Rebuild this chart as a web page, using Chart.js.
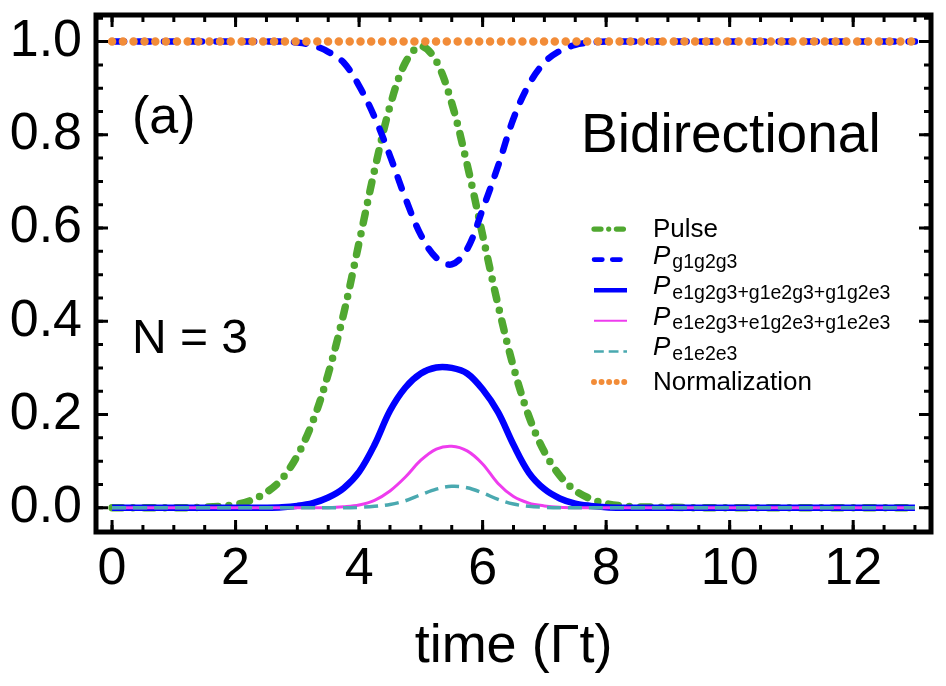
<!DOCTYPE html>
<html lang="en">
<head>
    <meta charset="UTF-8">
    <title>Bidirectional, N = 3</title>
    <script src="https://cdn.jsdelivr.net/npm/chart.js"></script>
    <style>
        html, body { margin: 0; padding: 0; background: #fff; }
        #wrap { width: 946px; height: 686px; }
    </style>
</head>
<body>
<div id="wrap"><canvas id="popChart" width="946" height="686"></canvas></div>
<script>
    // time axis (Gamma t) and the populations
    const time = [0, 0.5, 1, 1.5, 2, 2.25, 2.5, 2.75, 3, 3.25, 3.5, 3.75, 4, 4.25, 4.5, 4.75,
                  5, 5.25, 5.5, 5.75, 6, 6.25, 6.5, 6.75, 7, 7.25, 7.5, 7.75, 8, 8.25, 8.5,
                  9, 9.5, 10, 11, 12, 13];
    const pulse = [0, 0, 0, 0.001, 0.007, 0.016, 0.033, 0.062, 0.112, 0.185, 0.287, 0.416, 0.569, 0.724, 0.861, 0.955,
                   0.99, 0.958, 0.868, 0.736, 0.585, 0.435, 0.302, 0.196, 0.120, 0.069, 0.037, 0.019, 0.009, 0.004, 0.002,
                   0.001, 0, 0, 0, 0, 0];
    const pG = [1, 1, 1, 1, 1, 1, 1, 1, 0.998, 0.992, 0.978, 0.955, 0.905, 0.838, 0.755, 0.664,
                0.585, 0.536, 0.522, 0.555, 0.640, 0.733, 0.835, 0.908, 0.955, 0.980, 0.993, 0.998, 1, 1, 1,
                1, 1, 1, 1, 1, 1];
    const pOne = [0, 0, 0, 0, 0, 0, 0, 0.001, 0.004, 0.010, 0.022, 0.042, 0.077, 0.135, 0.208, 0.258,
                  0.288, 0.301, 0.300, 0.288, 0.254, 0.205, 0.135, 0.075, 0.040, 0.020, 0.009, 0.004, 0.001, 0, 0,
                  0, 0, 0, 0, 0, 0];
    const pTwo = [0, 0, 0, 0, 0, 0, 0, 0, 0, 0, 0, 0.002, 0.006, 0.016, 0.036, 0.066,
                  0.102, 0.126, 0.132, 0.122, 0.094, 0.052, 0.024, 0.010, 0.004, 0.001, 0, 0, 0, 0, 0,
                  0, 0, 0, 0, 0, 0];
    const pThree = [0, 0, 0, 0, 0, 0, 0, 0, 0, 0, 0, 0, 0.001, 0.003, 0.007, 0.015,
                    0.028, 0.040, 0.046, 0.043, 0.032, 0.018, 0.008, 0.003, 0.001, 0, 0, 0, 0, 0, 0,
                    0, 0, 0, 0, 0, 0];
    const norm = [1, 1, 1, 1, 1, 1, 1, 1, 1, 1, 1, 1, 1, 1, 1, 1,
                  1, 1, 1, 1, 1, 1, 1, 1, 1, 1, 1, 1, 1, 1, 1,
                  1, 1, 1, 1, 1, 1];

    const xTicks = [0, 2, 4, 6, 8, 10, 12];
    const yTicks = [0, 0.2, 0.4, 0.6, 0.8, 1.0];
    const labelMain = ['Pulse', 'P', 'P', 'P', 'P', 'Normalization'];
    const labelSub = ['', 'g1g2g3', 'e1g2g3+g1e2g3+g1g2e3', 'e1e2g3+e1g2e3+g1e2e3', 'e1e2e3', ''];

    const FONT = '"Liberation Sans", Arial, Helvetica, sans-serif';
    const pts = ys => time.map((t, i) => ({ x: t, y: ys[i] }));

    // minor ticks every 0.5 on x and 0.05 on y
    const xMinor = [], yMinor = [];
    for (let k = 0; k <= 26; k++) xMinor.push(k * 0.5);
    for (let k = -1; k <= 21; k++) yMinor.push(k * 0.05);

    const noPad = s => { s.paddingTop = 0; s.paddingBottom = 0; s.paddingLeft = 0; s.paddingRight = 0; };

    const framePlugin = {
        id: 'frame',
        afterDraw(chart) {
            const { ctx, chartArea: a, scales: { x, y } } = chart;
            ctx.save();
            ctx.strokeStyle = '#000';
            ctx.lineCap = 'butt';
            ctx.lineWidth = 3;
            const xt = (v, len) => {
                const px = x.getPixelForValue(v);
                if (px < a.left + 2 || px > a.right - 2) return;
                ctx.beginPath();
                ctx.moveTo(px, a.bottom); ctx.lineTo(px, a.bottom - len);
                ctx.moveTo(px, a.top); ctx.lineTo(px, a.top + len);
                ctx.stroke();
            };
            const yt = (v, len) => {
                const py = y.getPixelForValue(v);
                if (py < a.top + 2 || py > a.bottom - 2) return;
                ctx.beginPath();
                ctx.moveTo(a.left, py); ctx.lineTo(a.left + len, py);
                ctx.moveTo(a.right, py); ctx.lineTo(a.right - len, py);
                ctx.stroke();
            };
            xMinor.forEach(v => xt(v, 7));
            xTicks.forEach(v => xt(v, 12));
            yMinor.forEach(v => yt(v, 7));
            yTicks.forEach(v => yt(v, 12));
            ctx.lineWidth = 5;
            ctx.strokeRect(a.left, a.top, a.right - a.left, a.bottom - a.top);
            ctx.restore();
        }
    };

    const notesPlugin = {
        id: 'notes',
        afterDraw(chart) {
            const ctx = chart.ctx;
            ctx.save();
            ctx.fillStyle = '#000';
            ctx.textBaseline = 'alphabetic';
            ctx.textAlign = 'left';
            ctx.font = '52px ' + FONT;
            ctx.fillText('(a)', 132, 133);
            ctx.font = '55px ' + FONT;
            ctx.fillText('Bidirectional', 581, 152);
            ctx.font = '48px ' + FONT;
            ctx.fillText('N = 3', 132, 353);

            // legend
            const rowY0 = 229, rowStep = 30.6;
            chart.data.datasets.forEach((ds, i) => {
                const cy = rowY0 + i * rowStep;
                ctx.save();
                ctx.strokeStyle = ds.borderColor;
                ctx.lineWidth = ds.borderWidth * 0.7;
                ctx.lineCap = ds.borderCapStyle || 'butt';
                ctx.setLineDash((ds.borderDash || []).map(d => d * 0.7));
                ctx.beginPath();
                ctx.moveTo(594, cy);
                ctx.lineTo(627, cy);
                ctx.stroke();
                ctx.restore();

                if (labelSub[i]) {
                    ctx.font = 'italic 26px ' + FONT;
                    ctx.fillText(labelMain[i], 653, cy + 4);
                    const w = ctx.measureText(labelMain[i]).width;
                    ctx.font = '19.5px ' + FONT;
                    ctx.fillText(labelSub[i], 653 + w + 2, cy + 8.5);
                } else {
                    ctx.font = '26px ' + FONT;
                    ctx.fillText(labelMain[i], 653, cy + 8);
                }
            });
            ctx.restore();
        }
    };

    const ctx = document.getElementById('popChart').getContext('2d');
    const popChart = new Chart(ctx, {
        type: 'line',
        data: {
            datasets: [
                {
                    label: 'Pulse', data: pts(pulse), order: 5,
                    borderColor: '#50a830', borderWidth: 7.5,
                    borderDash: [10, 11, 0, 11], borderCapStyle: 'round'
                },
                {
                    label: 'P g1g2g3', data: pts(pG), order: 4,
                    borderColor: '#0000ff', borderWidth: 6.5,
                    borderDash: [12, 14], borderCapStyle: 'round'
                },
                {
                    label: 'P e1g2g3+g1e2g3+g1g2e3', data: pts(pOne), order: 3,
                    borderColor: '#0000ff', borderWidth: 6.5
                },
                {
                    label: 'P e1e2g3+e1g2e3+g1e2e3', data: pts(pTwo), order: 2,
                    borderColor: '#ee3cee', borderWidth: 3
                },
                {
                    label: 'P e1e2e3', data: pts(pThree), order: 1,
                    borderColor: '#4aa9b0', borderWidth: 3.5,
                    borderDash: [14, 7]
                },
                {
                    label: 'Normalization', data: pts(norm), order: 0,
                    borderColor: '#f28c38', borderWidth: 8.5,
                    borderDash: [0, 10.8], borderCapStyle: 'round'
                }
            ]
        },
        options: {
            responsive: false,
            animation: false,
            devicePixelRatio: 1,
            layout: { padding: { top: 15, right: 15, left: 0, bottom: 0 } },
            elements: {
                point: { radius: 0 },
                line: { tension: 0.35, borderJoinStyle: 'round', fill: false }
            },
            plugins: {
                legend: { display: false },
                tooltip: { enabled: false }
            },
            scales: {
                x: {
                    type: 'linear',
                    min: -0.26,
                    max: 13.26,
                    afterBuildTicks: s => { s.ticks = xTicks.map(v => ({ value: v })); },
                    afterFit: s => { s.height = 154; noPad(s); },
                    grid: { display: false, drawTicks: false },
                    border: { display: false },
                    ticks: {
                        autoSkip: false, maxRotation: 0, padding: 6, color: '#000',
                        font: { family: FONT, size: 52 },
                        callback: v => String(v)
                    },
                    title: {
                        display: true, text: 'time (Γt)', color: '#000',
                        font: { family: FONT, size: 54 },
                        padding: { top: 0, bottom: 6 }
                    }
                },
                y: {
                    type: 'linear',
                    min: -0.052,
                    max: 1.057,
                    afterBuildTicks: s => { s.ticks = yTicks.map(v => ({ value: v })); },
                    afterFit: s => { s.width = 96; noPad(s); },
                    grid: { display: false, drawTicks: false },
                    border: { display: false },
                    ticks: {
                        autoSkip: false, padding: 14, color: '#000',
                        font: { family: FONT, size: 52 },
                        callback: v => v.toFixed(1)
                    }
                }
            }
        },
        plugins: [framePlugin, notesPlugin]
    });
</script>
</body>
</html>
